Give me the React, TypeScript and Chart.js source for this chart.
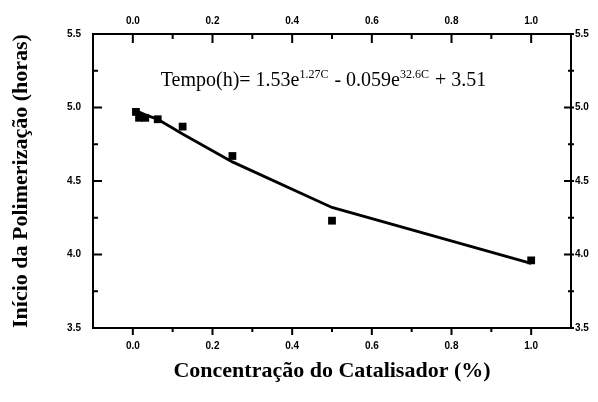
import React, { useEffect, useRef } from "react";
import { Chart, registerables } from "chart.js";

Chart.register(...registerables);

// Data
const concentrations = [0.0078, 0.0156, 0.03125, 0.0625, 0.125, 0.25, 0.5, 1.0];
const measuredHours = [4.97, 4.93, 4.93, 4.92, 4.87, 4.67, 4.23, 3.96];
const fittedHours = [4.98, 4.97, 4.95, 4.92, 4.82, 4.63, 4.32, 3.94];

const xTickValues = [0.0, 0.2, 0.4, 0.6, 0.8, 1.0];
const xMinorValues = [0.1, 0.3, 0.5, 0.7, 0.9];
const yTickValues = [3.5, 4.0, 4.5, 5.0, 5.5];
const yMinorValues = [3.75, 4.25, 4.75, 5.25];

const xTitle = "Concentração do Catalisador (%)";
const yTitle = "Início da Polimerização (horas)";

const TICK_FONT = { family: "'Liberation Sans', Arial, sans-serif", size: 10, weight: "bold" as const };
const TITLE_FONT = { family: "'Liberation Serif', 'Times New Roman', serif", size: 22, weight: "bold" as const };

const tickMarksPlugin = {
  id: "tickMarks",
  afterDraw(chart: any) {
    const { ctx, chartArea } = chart;
    const { left, right, top, bottom } = chartArea;
    const xs = chart.scales.x;
    const ys = chart.scales.y;
    ctx.save();
    ctx.strokeStyle = "#000";
    ctx.lineWidth = 2;
    ctx.beginPath();
    xTickValues.forEach((v) => {
      const px = xs.getPixelForValue(v);
      ctx.moveTo(px, bottom); ctx.lineTo(px, bottom + 7);
      ctx.moveTo(px, top); ctx.lineTo(px, top + 9);
    });
    xMinorValues.forEach((v) => {
      const px = xs.getPixelForValue(v);
      ctx.moveTo(px, bottom); ctx.lineTo(px, bottom + 4);
      ctx.moveTo(px, top); ctx.lineTo(px, top + 5);
    });
    yTickValues.forEach((v) => {
      const py = ys.getPixelForValue(v);
      ctx.moveTo(left, py); ctx.lineTo(left + 9, py);
      ctx.moveTo(right - 7, py); ctx.lineTo(right + 3, py);
    });
    yMinorValues.forEach((v) => {
      const py = ys.getPixelForValue(v);
      ctx.moveTo(left, py); ctx.lineTo(left + 5, py);
      ctx.moveTo(right - 3, py); ctx.lineTo(right + 3, py);
    });
    ctx.stroke();

    // equation annotation
    let x = xs.getPixelForValue(0.07);
    const y = ys.getPixelForValue(5.146);
    const big = "20px 'Liberation Serif', 'Times New Roman', serif";
    const small = "12px 'Liberation Serif', 'Times New Roman', serif";
    ctx.fillStyle = "#000";
    ctx.textBaseline = "alphabetic";
    ctx.textAlign = "left";
    const parts: [string, boolean][] = [
      ["Tempo(h)= 1.53e", false],
      ["1.27C", true],
      [" - 0.059e", false],
      ["32.6C", true],
      [" + 3.51", false],
    ];
    parts.forEach(([t, sup]) => {
      ctx.font = sup ? small : big;
      ctx.fillText(t, x, sup ? y - 8 : y);
      x += ctx.measureText(t).width + (sup ? 1 : 0);
    });
    ctx.restore();
  },
};

const fmt = (v: any) => Number(v).toFixed(1);

export default function App() {
  const ref = useRef<HTMLCanvasElement | null>(null);
  useEffect(() => {
    if (!ref.current) return;
    const chart = new Chart(ref.current, {
      type: "scatter",
      data: {
        datasets: [
          {
            label: "fit",
            data: concentrations.map((c, i) => ({ x: c, y: fittedHours[i] })),
            showLine: true,
            borderColor: "#000",
            borderWidth: 2.8,
            pointRadius: 0,
            fill: false,
            tension: 0,
          },
          {
            label: "measured",
            data: concentrations.map((c, i) => ({ x: c, y: measuredHours[i] })),
            pointStyle: "rect",
            pointRadius: 5.5,
            backgroundColor: "#000",
            borderColor: "#000",
            borderWidth: 0,
          },
        ],
      },
      options: {
        animation: false,
        responsive: true,
        maintainAspectRatio: false,
        layout: { padding: 0 },
        plugins: { legend: { display: false }, tooltip: { enabled: false } },
        scales: {
          x: {
            type: "linear",
            position: "bottom",
            min: -0.1,
            max: 1.1,
            afterBuildTicks: (s: any) => { s.ticks = xTickValues.map((v) => ({ value: v })); },
            afterFit: (s: any) => { s.height = 74; },
            grid: { display: false, drawTicks: false },
            border: { display: true, color: "#000", width: 2 },
            ticks: { color: "#000", font: TICK_FONT, padding: 12, maxRotation: 0, callback: fmt },
            title: { display: true, text: xTitle, color: "#000", font: TITLE_FONT, padding: { top: 0, bottom: 17 } },
          },
          x2: {
            type: "linear",
            position: "top",
            min: -0.1,
            max: 1.1,
            afterBuildTicks: (s: any) => { s.ticks = xTickValues.map((v) => ({ value: v })); },
            afterFit: (s: any) => { s.height = 34; },
            grid: { display: false, drawTicks: false },
            border: { display: true, color: "#000", width: 2 },
            ticks: { color: "#000", font: TICK_FONT, padding: 7, maxRotation: 0, callback: fmt },
          },
          y: {
            type: "linear",
            position: "left",
            min: 3.5,
            max: 5.5,
            afterBuildTicks: (s: any) => { s.ticks = yTickValues.map((v) => ({ value: v })); },
            afterFit: (s: any) => { s.width = 93; },
            grid: { display: false, drawTicks: false },
            border: { display: true, color: "#000", width: 2 },
            ticks: { color: "#000", font: TICK_FONT, padding: 12, callback: fmt },
            title: { display: true, text: yTitle, color: "#000", font: TITLE_FONT, padding: { top: 8, bottom: 0 } },
          },
          y2: {
            type: "linear",
            position: "right",
            min: 3.5,
            max: 5.5,
            afterBuildTicks: (s: any) => { s.ticks = yTickValues.map((v) => ({ value: v })); },
            afterFit: (s: any) => { s.width = 27; },
            grid: { display: false, drawTicks: false },
            border: { display: true, color: "#000", width: 2 },
            ticks: { color: "#000", font: TICK_FONT, padding: 4, callback: fmt },
          },
        },
      } as any,
      plugins: [tickMarksPlugin],
    });
    return () => chart.destroy();
  }, []);
  return (
    <div style={{ position: "fixed", left: 0, top: 0, width: 598, height: 402, background: "#fff" }}>
      <canvas ref={ref} />
    </div>
  );
}
